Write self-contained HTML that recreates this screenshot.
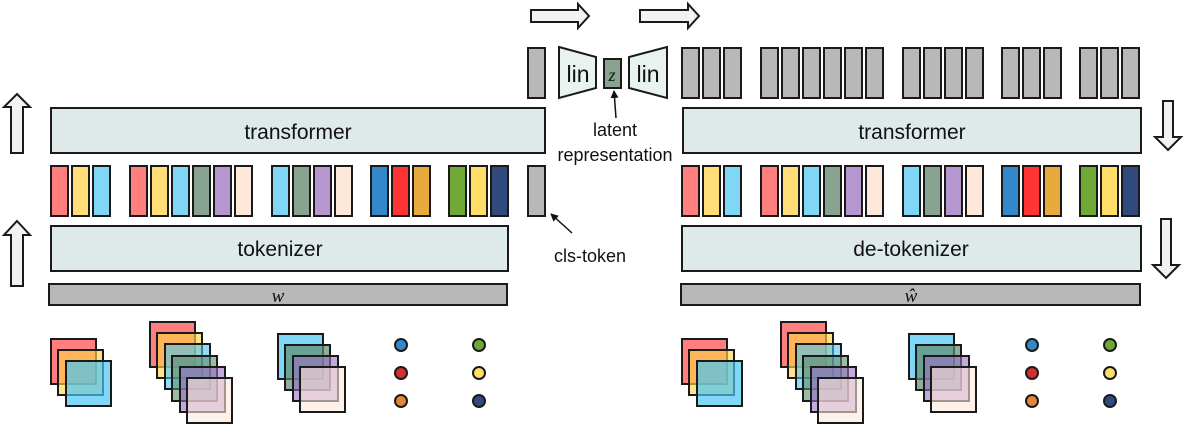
<!DOCTYPE html>
<html><head><meta charset="utf-8"><style>
html,body{margin:0;padding:0;background:#fff;}
svg{display:block;font-family:"Liberation Sans",sans-serif;}
</style></head><body>
<svg width="1184" height="432" viewBox="0 0 1184 432" xmlns="http://www.w3.org/2000/svg">
<defs>
<marker id="ah" markerWidth="8" markerHeight="8" refX="7" refY="4" orient="auto" markerUnits="userSpaceOnUse"><path d="M0,0 L8,4 L0,8 z" fill="#111"/></marker>
</defs>
<g stroke="#1a1a1a" stroke-width="2">
<path d="M17,94 L30,107 L23,107 L23,153 L11,153 L11,107 L4,107 Z" fill="#f2f2f2"/>
<path d="M17,221 L30,235 L23,235 L23,286 L11,286 L11,235 L4,235 Z" fill="#f2f2f2"/>
<path d="M1168,150 L1181,137 L1173,137 L1173,101 L1163,101 L1163,137 L1155,137 Z" fill="#f2f2f2"/>
<path d="M1166,278 L1179,265 L1171,265 L1171,219 L1161,219 L1161,265 L1153,265 Z" fill="#f2f2f2"/>
<path d="M531,10 L578,10 L578,4 L589,16 L578,28 L578,22 L531,22 Z" fill="#f2f2f2"/>
<path d="M640,10 L688,10 L688,4 L699,16 L688,28 L688,22 L640,22 Z" fill="#f2f2f2"/>
<rect x="51" y="108" width="494" height="45" fill="#deeaea"/>
<rect x="51" y="226" width="457" height="45" fill="#deeaea"/>
<rect x="49" y="284" width="458" height="21" fill="#b8b8b8"/>
<rect x="683" y="108" width="458" height="45" fill="#deeaea"/>
<rect x="682" y="226" width="459" height="45" fill="#deeaea"/>
<rect x="681" y="284" width="459" height="21" fill="#b8b8b8"/>
<path d="M559,47 L596,57 L596,88 L559,98 Z" fill="#e8f2ee"/>
<path d="M667,47 L629,57 L629,88 L667,98 Z" fill="#e8f2ee"/>
<rect x="604" y="59" width="17" height="29" fill="#88a390"/>
<rect x="528" y="48" width="17" height="50" fill="#b8b8b8"/>
<rect x="528" y="166" width="17" height="50" fill="#b8b8b8"/>
</g>
<g id="tok" stroke="#1a1a1a" stroke-width="2">
<rect x="51" y="166" width="17" height="50" fill="#ff7f7f"/>
<rect x="72" y="166" width="17" height="50" fill="#ffdd77"/>
<rect x="93" y="166" width="17" height="50" fill="#7fd6f7"/>
<rect x="130" y="166" width="17" height="50" fill="#ff7f7f"/>
<rect x="151" y="166" width="17" height="50" fill="#ffdd77"/>
<rect x="172" y="166" width="17" height="50" fill="#7fd6f7"/>
<rect x="193" y="166" width="17" height="50" fill="#88a390"/>
<rect x="214" y="166" width="17" height="50" fill="#b596cf"/>
<rect x="235" y="166" width="17" height="50" fill="#fde8da"/>
<rect x="272" y="166" width="17" height="50" fill="#7fd6f7"/>
<rect x="293" y="166" width="17" height="50" fill="#88a390"/>
<rect x="314" y="166" width="17" height="50" fill="#b596cf"/>
<rect x="335" y="166" width="17" height="50" fill="#fde8da"/>
<rect x="371" y="166" width="17" height="50" fill="#3488c9"/>
<rect x="392" y="166" width="17" height="50" fill="#ff3434"/>
<rect x="413" y="166" width="17" height="50" fill="#e8aa3c"/>
<rect x="449" y="166" width="17" height="50" fill="#6fa835"/>
<rect x="470" y="166" width="17" height="50" fill="#ffdd66"/>
<rect x="491" y="166" width="17" height="50" fill="#304a7d"/>
</g>
<use href="#tok" transform="translate(631,0)"/>
<g transform="translate(631,-118)" fill="#b8b8b8" stroke="#1a1a1a" stroke-width="2">
<rect x="51" y="166" width="17" height="50"/><rect x="72" y="166" width="17" height="50"/><rect x="93" y="166" width="17" height="50"/>
<rect x="130" y="166" width="17" height="50"/><rect x="151" y="166" width="17" height="50"/><rect x="172" y="166" width="17" height="50"/><rect x="193" y="166" width="17" height="50"/><rect x="214" y="166" width="17" height="50"/><rect x="235" y="166" width="17" height="50"/>
<rect x="272" y="166" width="17" height="50"/><rect x="293" y="166" width="17" height="50"/><rect x="314" y="166" width="17" height="50"/><rect x="335" y="166" width="17" height="50"/>
<rect x="371" y="166" width="17" height="50"/><rect x="392" y="166" width="17" height="50"/><rect x="413" y="166" width="17" height="50"/>
<rect x="449" y="166" width="17" height="50"/><rect x="470" y="166" width="17" height="50"/><rect x="491" y="166" width="17" height="50"/>
</g>
<g id="sq" stroke="#1a1a1a" stroke-width="2">
<rect x="51" y="339" width="45" height="45" fill="#ff7f7f"/>
<rect x="58" y="350" width="45" height="45" fill="#ffd24a" fill-opacity="0.65"/>
<rect x="66" y="361" width="45" height="45" fill="#4cc6f4" fill-opacity="0.7"/>
<rect x="150" y="322" width="45" height="45" fill="#ff7f7f"/>
<rect x="157" y="333" width="45" height="45" fill="#ffd24a" fill-opacity="0.65"/>
<rect x="165" y="344" width="45" height="45" fill="#4cc6f4" fill-opacity="0.6"/>
<rect x="172" y="356" width="45" height="45" fill="#5f8a6c" fill-opacity="0.6"/>
<rect x="180" y="367" width="45" height="45" fill="#9a73c4" fill-opacity="0.6"/>
<rect x="187" y="378" width="45" height="45" fill="#fde8da" fill-opacity="0.6"/>
<rect x="278" y="334" width="45" height="45" fill="#7fd6f7"/>
<rect x="285" y="345" width="45" height="45" fill="#5f8a6c" fill-opacity="0.7"/>
<rect x="293" y="356" width="45" height="45" fill="#9a73c4" fill-opacity="0.6"/>
<rect x="300" y="367" width="45" height="45" fill="#fde8da" fill-opacity="0.6"/>
<circle cx="401" cy="345" r="6" fill="#3488c9"/>
<circle cx="401" cy="373" r="6" fill="#d32f2f"/>
<circle cx="401" cy="401" r="6" fill="#e0873a"/>
<circle cx="479" cy="345" r="6" fill="#6fa835"/>
<circle cx="479" cy="373" r="6" fill="#ffdd66"/>
<circle cx="479" cy="401" r="6" fill="#304a7d"/>
</g>
<use href="#sq" transform="translate(631,0)"/>
<line x1="616" y1="118" x2="614" y2="91" stroke="#111" stroke-width="1.5" marker-end="url(#ah)"/>
<line x1="572" y1="233" x2="551" y2="214" stroke="#111" stroke-width="1.5" marker-end="url(#ah)"/>
<g font-size="21" fill="#111" text-anchor="middle">
<text x="298" y="139">transformer</text>
<text x="280" y="256">tokenizer</text>
<text x="912" y="139">transformer</text>
<text x="911" y="256">de-tokenizer</text>
<text x="578" y="82" font-size="23">lin</text>
<text x="648" y="82" font-size="23">lin</text>
<text x="615" y="136" font-size="18">latent</text>
<text x="615" y="161" font-size="18">representation</text>
<text x="590" y="262" font-size="18">cls-token</text>
</g>
<text x="612" y="81" font-size="18" font-style="italic" font-family="Liberation Serif,serif" text-anchor="middle" fill="#111">z</text>
<text x="278" y="302" font-size="19" font-style="italic" font-family="Liberation Serif,serif" text-anchor="middle" fill="#111">w</text>
<text x="911" y="302" font-size="19" font-style="italic" font-family="Liberation Serif,serif" text-anchor="middle" fill="#111">ŵ</text>
</svg>
</body></html>
